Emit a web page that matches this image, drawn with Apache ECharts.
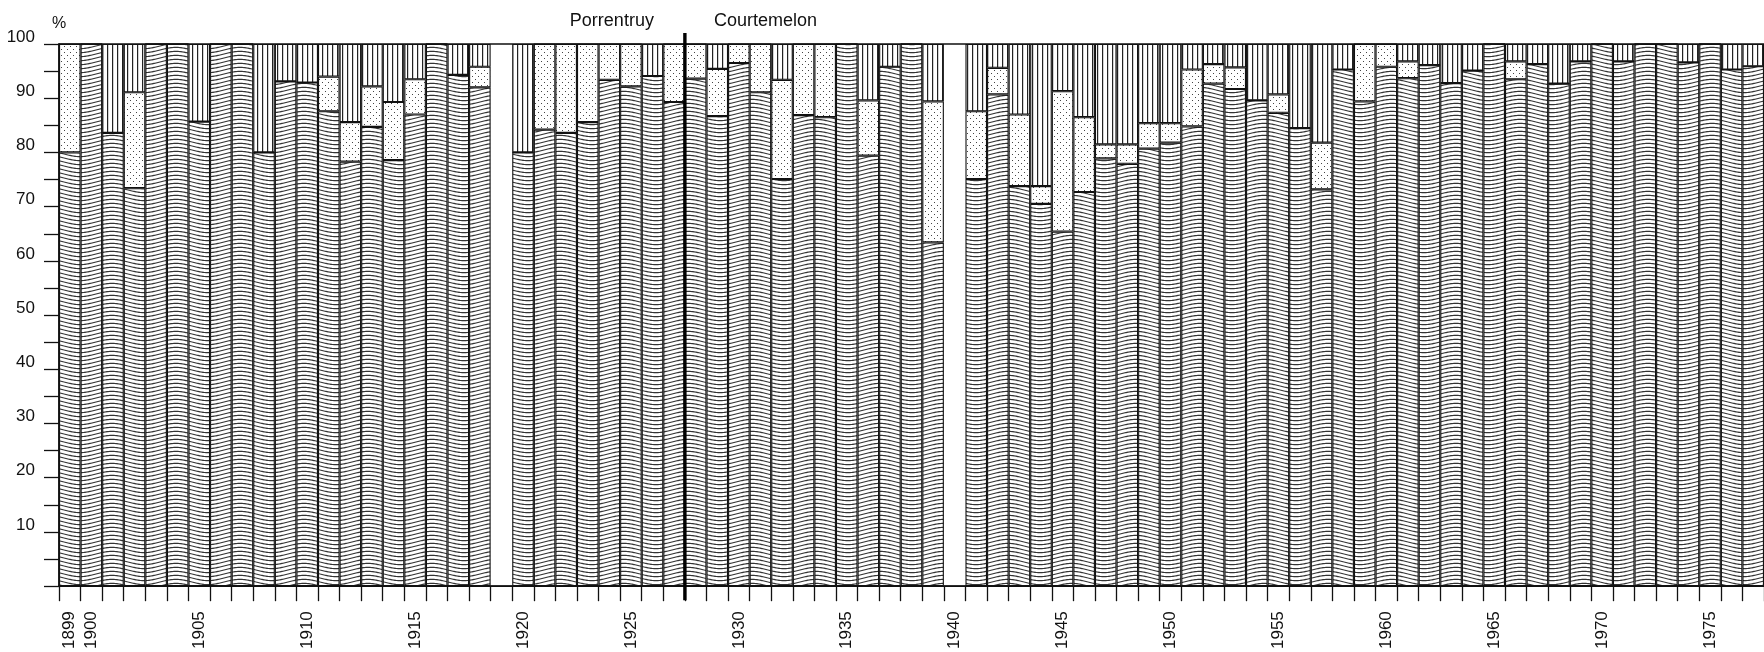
<!DOCTYPE html>
<html>
<head>
<meta charset="utf-8">
<script src="https://cdn.jsdelivr.net/npm/echarts@6/dist/echarts.min.js"></script>
<style>
  html, body { margin: 0; padding: 0; background: #fff; }
  #chart { width: 1764px; height: 652px; }
</style>
</head>
<body>
<div id="chart"></div>
<script>
// ---- data (shares in %, null = no data) ----
const years = ['1899','1900','1901','1902','1903','1904','1905','1906','1907','1908','1909',
  '1910','1911','1912','1913','1914','1915','1916','1917','1918','1919',
  '1920','1921','1922','1923','1924','1925','1926','1927','1928','1929',
  '1930','1931','1932','1933','1934','1935','1936','1937','1938','1939',
  '1940','1941','1942','1943','1944','1945','1946','1947','1948','1949',
  '1950','1951','1952','1953','1954','1955','1956','1957','1958','1959',
  '1960','1961','1962','1963','1964','1965','1966','1967','1968','1969',
  '1970','1971','1972','1973','1974','1975','1976','1977'];

const wavyShare = [80, 100, 83.6, 73.4, 100, 100, 85.7, 100, 100, 80.0, 93.1,
  92.9, 87.6, 78.3, 84.7, 78.6, 87.0, 100, 94.3, 92.0, null,
  80.0, 84.2, 83.6, 85.6, 93.4, 92.2, 94.1, 89.3, 93.6, 86.7,
  96.5, 91.1, 75.1, 86.9, 86.5, 100, 79.4, 95.8, 100, 63.4,
  null, 75.1, 90.7, 73.8, 70.5, 65.4, 72.7, 78.9, 77.9, 80.7,
  81.8, 84.8, 92.7, 91.7, 89.6, 87.3, 84.5, 73.2, 95.3, 89.4,
  95.8, 93.7, 96.1, 92.8, 95.1, 100, 93.5, 96.3, 92.7, 96.8,
  100, 96.8, 100, 100, 96.6, 100, 95.3, 95.9];

const dottedShare = [20, 0, 0, 17.7, 0, 0, 0, 0, 0, 0, 0,
  0, 6.4, 7.3, 7.5, 10.7, 6.5, 0, 0, 3.8, null,
  0, 15.8, 16.4, 14.4, 6.6, 7.8, 0, 10.7, 6.4, 8.7,
  3.5, 8.9, 18.3, 13.1, 13.5, 0, 10.2, 0, 0, 26.0,
  null, 12.5, 4.9, 13.2, 3.3, 25.9, 13.8, 2.6, 3.6, 4.7,
  3.6, 10.5, 3.6, 4.0, 0, 3.4, 0, 8.6, 0, 10.6,
  4.2, 3.1, 0, 0, 0, 0, 3.3, 0, 0, 0,
  0, 0, 0, 0, 0, 0, 0, 0];

const linedShare = [0, 0, 16.4, 8.9, 0, 0, 14.3, 0, 0, 20.0, 6.9,
  7.1, 6.0, 14.4, 7.8, 10.7, 6.5, 0, 5.7, 4.2, null,
  20.0, 0, 0, 0, 0, 0, 5.9, 0, 0, 4.6,
  0, 0, 6.6, 0, 0, 0, 10.4, 4.2, 0, 10.6,
  null, 12.4, 4.4, 13.0, 26.2, 8.7, 13.5, 18.5, 18.5, 14.6,
  14.6, 4.7, 3.7, 4.3, 10.4, 9.3, 15.5, 18.2, 4.7, 0,
  0, 3.2, 3.9, 7.2, 4.9, 0, 3.2, 3.7, 7.3, 3.2,
  0, 3.2, 0, 0, 3.4, 0, 4.7, 4.1];

const labelledYears = ['1899','1900','1905','1910','1915','1920','1925','1930','1935','1940',
  '1945','1950','1955','1960','1965','1970','1975'];
const yTickLabels = [10, 20, 30, 40, 50, 60, 70, 80, 90, 100];
const lastPorrentruyYear = '1927';
const stationNames = ['Porrentruy', 'Courtemelon'];

// ---- fill patterns ----
function makeTile(w, h, draw) {
  const c = document.createElement('canvas');
  c.width = w; c.height = h;
  const ctx = c.getContext('2d');
  ctx.fillStyle = '#ffffff';
  ctx.fillRect(0, 0, w, h);
  draw(ctx, w, h);
  return c;
}
const wavyTile = makeTile(64, 4, (ctx, w, h) => {
  ctx.strokeStyle = '#333333';
  ctx.lineWidth = 1.2;
  for (let o = -8; o <= 8; o += 4) {
    ctx.beginPath();
    for (let x = 0; x <= w; x++) {
      const y = 2 + o + 2.6 * Math.sin(2 * Math.PI * x / w);
      if (x === 0) ctx.moveTo(x, y); else ctx.lineTo(x, y);
    }
    ctx.stroke();
  }
});
const dotTile = makeTile(6, 6, (ctx) => {
  ctx.fillStyle = '#444';
  ctx.fillRect(1, 1, 1, 1);
  ctx.fillRect(4, 4, 1, 1);
});
const lineTile = makeTile(5, 4, (ctx) => {
  ctx.fillStyle = '#222';
  ctx.fillRect(2, 0, 1.2, 4);
});

const FONT = "'Liberation Sans', Arial, Helvetica, sans-serif";
const INK = '#111';

const chart = echarts.init(document.getElementById('chart'), null, { renderer: 'canvas' });

const barBase = {
  type: 'bar',
  stack: 'total',
  barCategoryGap: '0%',
  animation: false,
  silent: true
};

chart.setOption({
  animation: false,
  backgroundColor: '#ffffff',
  grid: {
    left: 59, top: 44, right: -13, bottom: 63,
    show: true, borderColor: INK, borderWidth: 1.5, backgroundColor: 'transparent'
  },
  xAxis: {
    type: 'category',
    data: years,
    boundaryGap: true,
    axisLine: { show: true, lineStyle: { color: INK, width: 1.6 } },
    axisTick: { show: true, interval: 0, length: 15, lineStyle: { color: INK, width: 1.3 } },
    axisLabel: {
      interval: (idx, val) => labelledYears.indexOf(val) >= 0,
      rotate: 90,
      margin: 25,
      fontSize: 17,
      fontFamily: FONT,
      color: INK
    },
    splitLine: { show: false }
  },
  yAxis: {
    type: 'value',
    min: 0, max: 100, interval: 5,
    name: '%',
    nameLocation: 'end',
    nameGap: 12,
    nameTextStyle: { fontSize: 16, fontFamily: FONT, color: INK, align: 'center' },
    axisLine: { show: true, lineStyle: { color: INK, width: 1.5 } },
    axisTick: { show: true, length: 15, lineStyle: { color: INK, width: 1.3 } },
    axisLabel: {
      formatter: v => (yTickLabels.indexOf(v) >= 0 ? String(v) : ''),
      margin: 24,
      fontSize: 17,
      fontFamily: FONT,
      color: INK,
      verticalAlign: 'bottom',
      lineHeight: 14
    },
    splitLine: { show: false }
  },
  series: [
    Object.assign({}, barBase, {
      name: 'wavy',
      data: wavyShare,
      itemStyle: { color: { image: wavyTile, repeat: 'repeat' }, borderColor: INK, borderWidth: 1.1 }
    }),
    Object.assign({}, barBase, {
      name: 'dotted',
      data: dottedShare,
      itemStyle: { color: { image: dotTile, repeat: 'repeat' }, borderColor: INK, borderWidth: 1.1 }
    }),
    Object.assign({}, barBase, {
      name: 'lined',
      data: linedShare,
      itemStyle: { color: { image: lineTile, repeat: 'repeat' }, borderColor: INK, borderWidth: 1.1 }
    }),
    {
      type: 'custom',
      silent: true,
      animation: false,
      z: 10,
      data: [[lastPorrentruyYear, 100]],
      renderItem: function (params, api) {
        const idx = api.value(0);
        const top = api.coord([idx, 100]);
        const bottom = api.coord([idx, 0]);
        const band = api.size([1, 0])[0];
        const x = top[0] + band / 2;
        return {
          type: 'group',
          children: [
            {
              type: 'line',
              shape: { x1: x, y1: top[1] - 11, x2: x, y2: bottom[1] + 14 },
              style: { stroke: '#000', lineWidth: 3.4 }
            },
            {
              type: 'text',
              style: {
                text: stationNames[0], x: x - 31, y: top[1] - 23,
                textAlign: 'right', textVerticalAlign: 'middle',
                font: '18px ' + FONT, fill: INK
              }
            },
            {
              type: 'text',
              style: {
                text: stationNames[1], x: x + 29, y: top[1] - 23,
                textAlign: 'left', textVerticalAlign: 'middle',
                font: '18px ' + FONT, fill: INK
              }
            }
          ]
        };
      }
    }
  ]
});
</script>
</body>
</html>
